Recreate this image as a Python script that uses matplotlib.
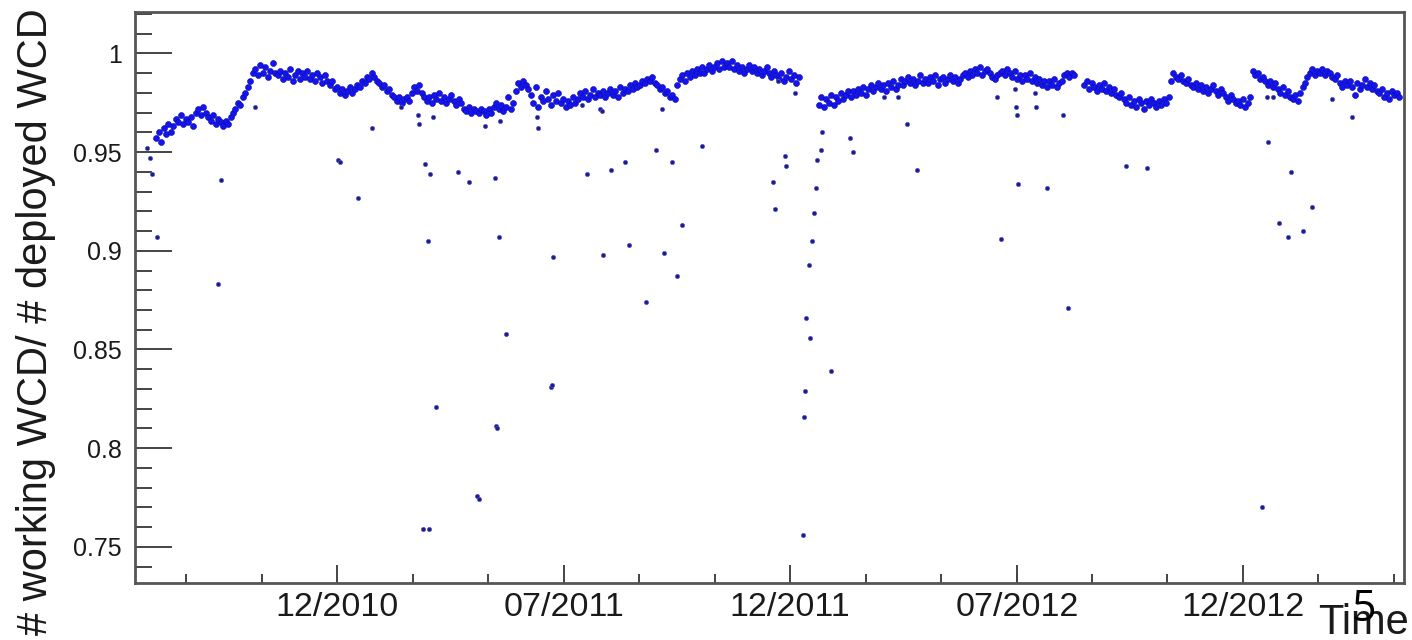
import numpy as np
import pandas as pd
import matplotlib
matplotlib.use('Agg')
import matplotlib.pyplot as plt
import matplotlib.dates as mdates
from matplotlib.ticker import MultipleLocator

nan = np.nan

# main band of daily ratios, one reading every 2 days from band_start (nan = no data)
band_start = '2010-08-07'
band_values = [
    0.957, 0.960, 0.955, 0.962, 0.959, 0.964, 0.960, 0.963, 0.967, 0.965,
    0.969, 0.964, 0.967, 0.965, 0.968, 0.963, 0.970, 0.972, 0.969, 0.973,
    0.970, 0.968, 0.966, 0.969, 0.964, 0.967, 0.965, 0.963, 0.966, 0.964,
    0.968, 0.970, 0.972, 0.975, 0.974, 0.978, 0.980, 0.983, 0.986, 0.990,
    0.992, 0.989, 0.994, 0.990, 0.993, 0.988, 0.991, 0.995, 0.990, 0.989,
    0.991, 0.987, 0.990, 0.988, 0.992, 0.986, 0.989, 0.991, 0.987, 0.990,
    0.988, 0.991, 0.987, 0.989, 0.986, 0.990, 0.988, 0.985, 0.989, 0.986,
    0.984, 0.986, 0.982, 0.983, 0.980, 0.982, 0.979, 0.981, 0.983, 0.980,
    0.982, 0.984, 0.983, 0.986, 0.985, 0.988, 0.987, 0.990, 0.988, 0.986,
    0.985, 0.983, 0.984, 0.981, 0.982, 0.979, 0.978, 0.976, 0.978, 0.975,
    0.977, 0.978, 0.976, 0.980, 0.983, 0.981, 0.984, 0.980, 0.978, 0.976,
    0.978, 0.975, 0.979, 0.977, 0.980, 0.976, 0.978, 0.975, 0.977, 0.979,
    0.976, 0.974, 0.977, 0.975, 0.972, 0.971, 0.973, 0.970, 0.972, 0.971,
    0.970, 0.972, 0.971, 0.969, 0.972, 0.970, 0.973, 0.975, 0.972, 0.974,
    0.971, 0.973, 0.978, 0.972, 0.975, 0.981, 0.985, 0.983, 0.986, 0.984,
    0.982, 0.979, 0.975, 0.983, 0.973, 0.978, 0.976, 0.981, 0.977, 0.974,
    0.979, 0.976, 0.980, 0.975, 0.977, 0.973, 0.976, 0.974, 0.978, 0.975,
    0.977, 0.980, 0.978, 0.981, 0.977, 0.979, 0.982, 0.978, 0.980, 0.979,
    0.981, 0.978, 0.980, 0.982, 0.979, 0.981, 0.978, 0.983, 0.980, 0.982,
    0.981, 0.984, 0.982, 0.985, 0.983, 0.984, 0.986, 0.985, 0.987, 0.986,
    0.988, 0.985, 0.984, 0.982, 0.983, 0.980, 0.981, 0.978, 0.979, 0.977,
    0.984, 0.987, 0.989, 0.986, 0.990, 0.988, 0.991, 0.989, 0.992, 0.990,
    0.993, 0.990, 0.992, 0.994, 0.991, 0.993, 0.995, 0.992, 0.996, 0.993,
    0.995, 0.993, 0.996, 0.992, 0.994, 0.991, 0.993, 0.990, 0.992, 0.994,
    0.991, 0.993, 0.990, 0.992, 0.989, 0.991, 0.993, 0.990, 0.988, 0.991,
    0.989, 0.987, 0.990, 0.986, 0.988, 0.991, 0.987, 0.989, 0.985, 0.988,
    nan, nan, nan, nan, nan, nan, nan, 0.974, 0.978, 0.973,
    0.977, 0.975, 0.979, 0.974, 0.978, 0.976, 0.980, 0.977, 0.979, 0.981,
    0.978, 0.981, 0.979, 0.982, 0.980, 0.983, 0.979, 0.982, 0.984, 0.981,
    0.983, 0.985, 0.982, 0.984, 0.981, 0.985, 0.983, 0.986, 0.982, 0.984,
    0.987, 0.984, 0.986, 0.988, 0.985, 0.987, 0.984, 0.986, 0.989, 0.985,
    0.987, 0.985, 0.988, 0.986, 0.989, 0.984, 0.987, 0.988, 0.985, 0.987,
    0.989, 0.986, 0.988, 0.985, 0.987, 0.989, 0.990, 0.988, 0.991, 0.989,
    0.992, 0.990, 0.993, 0.989, 0.991, 0.992, 0.990, 0.988, 0.987, 0.989,
    0.990, 0.991, 0.989, 0.992, 0.990, 0.988, 0.991, 0.987, 0.989, 0.986,
    0.989, 0.987, 0.990, 0.986, 0.988, 0.985, 0.987, 0.984, 0.986, 0.983,
    0.986, 0.984, 0.987, 0.983, 0.985, 0.986, 0.989, 0.990, 0.988, 0.990,
    0.989, nan, nan, nan, 0.984, 0.986, 0.982, 0.985, 0.983, 0.981,
    0.984, 0.982, 0.985, 0.981, 0.983, 0.980, 0.982, 0.979, 0.978, 0.980,
    0.977, 0.975, 0.978, 0.974, 0.976, 0.973, 0.977, 0.975, 0.972, 0.976,
    0.974, 0.977, 0.975, 0.973, 0.976, 0.974, 0.977, 0.975, 0.978, 0.986,
    0.990, 0.988, 0.987, 0.989, 0.986, 0.985, 0.987, 0.984, 0.983, 0.985,
    0.982, 0.984, 0.981, 0.983, 0.980, 0.982, 0.984, 0.981, 0.979, 0.982,
    0.980, 0.978, 0.976, 0.979, 0.977, 0.975, 0.976, 0.974, 0.977, 0.973,
    0.975, 0.978, 0.991, 0.989, 0.990, 0.987, 0.988, 0.986, 0.984, 0.986,
    0.983, 0.985, 0.982, 0.980, 0.983, 0.979, 0.981, 0.978, 0.977, 0.979,
    0.976, 0.980, 0.983, 0.985, 0.988, 0.990, 0.992, 0.989, 0.991, 0.990,
    0.992, 0.989, 0.991, 0.990, 0.988, 0.987, 0.989, 0.985, 0.983, 0.986,
    0.984, 0.986, 0.983, 0.979, 0.985, 0.982, 0.984, 0.987, 0.983, 0.985,
    0.982, 0.984, 0.981, 0.980, 0.982, 0.978, 0.980, 0.977, 0.981, 0.979,
    0.980, 0.978,
]

# days well below the band
outlier_dates = [
    '2010-07-31', '2010-08-02', '2010-08-04', '2010-08-08', '2010-09-26', '2010-09-28',
    '2010-10-26', '2011-01-01', '2011-01-02', '2011-01-17', '2011-01-28', '2011-02-20',
    '2011-03-06', '2011-03-07', '2011-03-10', '2011-03-12', '2011-03-14', '2011-03-15',
    '2011-03-16', '2011-03-18', '2011-03-21', '2011-04-07', '2011-04-16', '2011-04-23',
    '2011-04-24', '2011-04-29', '2011-05-07', '2011-05-08', '2011-05-09', '2011-05-10',
    '2011-05-11', '2011-05-16', '2011-06-10', '2011-06-11', '2011-06-21', '2011-06-22',
    '2011-06-23', '2011-07-16', '2011-07-20', '2011-07-31', '2011-08-01', '2011-08-02',
    '2011-08-09', '2011-08-20', '2011-08-23', '2011-09-06', '2011-09-14', '2011-09-19',
    '2011-09-20', '2011-09-27', '2011-10-01', '2011-10-05', '2011-10-21', '2011-12-17',
    '2011-12-19', '2011-12-21', '2011-12-27', '2011-12-28', '2012-01-04', '2012-01-10',
    '2012-01-11', '2012-01-12', '2012-01-13', '2012-01-15', '2012-01-16', '2012-01-18',
    '2012-01-19', '2012-01-21', '2012-01-22', '2012-01-25', '2012-01-26', '2012-02-02',
    '2012-02-17', '2012-02-20', '2012-03-16', '2012-03-27', '2012-04-03', '2012-04-11',
    '2012-06-15', '2012-06-18', '2012-06-29', '2012-06-30', '2012-07-01', '2012-07-02',
    '2012-07-15', '2012-07-16', '2012-07-25', '2012-08-07', '2012-08-11', '2012-09-27',
    '2012-10-14', '2013-01-14', '2013-01-18', '2013-01-19', '2013-01-23', '2013-01-28',
    '2013-02-04', '2013-02-07', '2013-02-16', '2013-02-24', '2013-03-12', '2013-03-28',
]
outlier_values = [
    0.952, 0.947, 0.939, 0.907, 0.883, 0.936,
    0.973, 0.946, 0.945, 0.927, 0.962, 0.973,
    0.969, 0.964, 0.759, 0.944, 0.905, 0.759,
    0.939, 0.968, 0.821, 0.940, 0.935, 0.776,
    0.774, 0.963, 0.937, 0.811, 0.810, 0.907,
    0.966, 0.858, 0.968, 0.962, 0.831, 0.832,
    0.897, 0.974, 0.939, 0.972, 0.971, 0.898,
    0.941, 0.945, 0.903, 0.874, 0.951, 0.972,
    0.899, 0.945, 0.887, 0.913, 0.953, 0.935,
    0.921, 0.986, 0.948, 0.943, 0.980, 0.756,
    0.816, 0.829, 0.866, 0.893, 0.856, 0.905,
    0.919, 0.932, 0.946, 0.951, 0.960, 0.839,
    0.957, 0.950, 0.978, 0.978, 0.964, 0.941,
    0.978, 0.906, 0.982, 0.973, 0.969, 0.934,
    0.980, 0.973, 0.932, 0.969, 0.871, 0.943,
    0.942, 0.770, 0.978, 0.955, 0.978, 0.914,
    0.907, 0.940, 0.910, 0.922, 0.977, 0.968,
]

x_tick_dates = ['2010-12-31T00:00', '2011-07-01T12:00', '2011-12-31T00:00', '2012-07-01T00:00', '2012-12-30T00:00']
x_tick_labels = ['12/2010', '07/2011', '12/2011', '07/2012', '12/2012']
y_ticks = [0.75, 0.8, 0.85, 0.9, 0.95, 1.0]
y_tick_labels = ['0.75', '0.8', '0.85', '0.9', '0.95', '1']

plt.rcParams['font.family'] = ['Liberation Sans', 'DejaVu Sans']

band_dates = pd.date_range(band_start, periods=len(band_values), freq='2D')
out_dates = pd.to_datetime(outlier_dates)

fig = plt.figure(figsize=(14.12, 6.4), dpi=100)
ax = fig.add_axes([0.0956, 0.0891, 0.8987, 0.8922])

ax.plot(band_dates, band_values, 'o', ms=4.3, mfc='#1414f0', mec='#0a0aa0', mew=0.4)
ax.plot(out_dates, outlier_values, 'o', ms=3.0, mfc='#1e1e78', mec='#5050e0', mew=0.5)

ax.set_xlim(pd.Timestamp('2010-07-21'), pd.Timestamp('2013-05-08 18:00'))
ax.set_ylim(0.7317, 1.021)

ax.set_xticks(pd.to_datetime(x_tick_dates, format='ISO8601'), x_tick_labels)
ax.xaxis.set_minor_locator(MultipleLocator(182.5 / 3, offset=mdates.date2num(pd.Timestamp('2010-12-31'))))
ax.set_yticks(y_ticks, y_tick_labels)
ax.yaxis.set_minor_locator(MultipleLocator(0.01))

ax.tick_params(axis='both', which='both', direction='in', color='#444444', width=1.4,
               top=False, right=False, labelcolor='#1a1a1a')
ax.tick_params(axis='y', which='major', length=26.6, labelsize=18, pad=9.4)
ax.tick_params(axis='y', which='minor', length=12.2)
ax.tick_params(axis='x', which='major', length=13, labelsize=24.5, pad=6.5)
ax.tick_params(axis='x', which='minor', length=6.5)

for s in ax.spines.values():
    s.set_linewidth(2.0)
    s.set_color('#555555')

fig.text(36 / 1412, 0.497, '# working WCD/ # deployed WCD', rotation=90,
         ha='center', va='center', fontsize=30, color='#1a1a1a')
fig.text(1409 / 1412, 6 / 640, 'Time', ha='right', va='baseline', fontsize=30, color='#1a1a1a')
fig.text(1364 / 1412, 19 / 640, '5', ha='center', va='baseline', fontsize=31,
         color='black', family=['Open Sans', 'DejaVu Sans'])

fig.savefig('out.png', dpi=100)
